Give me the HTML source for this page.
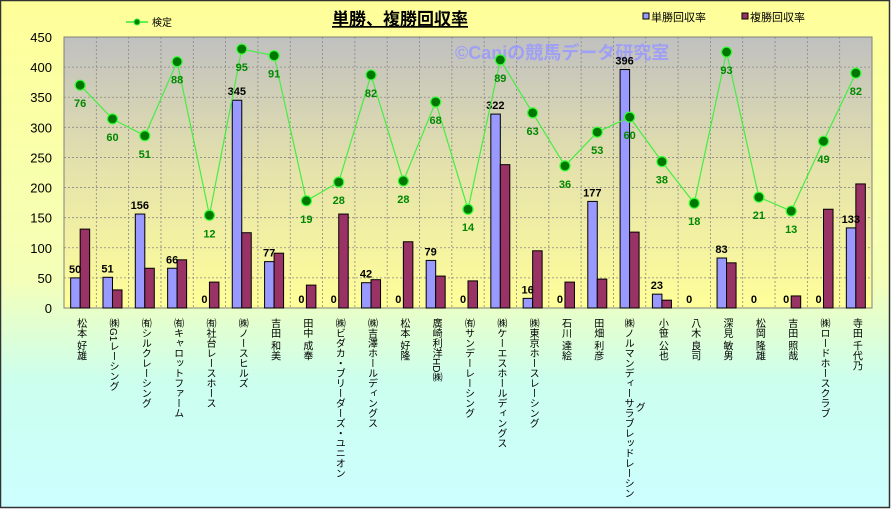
<!DOCTYPE html>
<html><head><meta charset="utf-8">
<style>
html,body{margin:0;padding:0;}
body{width:891px;height:509px;overflow:hidden;font-family:"Liberation Sans","Noto Sans CJK JP",sans-serif;}
.vt{writing-mode:vertical-rl;text-orientation:mixed;}
</style></head>
<body>
<svg id="chart" width="891" height="509" xmlns="http://www.w3.org/2000/svg" font-family="Liberation Sans, Noto Sans CJK JP, sans-serif">
<defs>
<linearGradient id="bg" x1="0" y1="0" x2="0" y2="1">
<stop offset="0" stop-color="#ffff99"/><stop offset="0.55" stop-color="#f4ffb8"/><stop offset="0.75" stop-color="#ccffee"/><stop offset="1" stop-color="#ccffff"/>
</linearGradient>
<linearGradient id="pg" x1="0" y1="0" x2="0" y2="1">
<stop offset="0" stop-color="#c0c0c0"/><stop offset="0.5" stop-color="#e6e3ab"/><stop offset="1" stop-color="#ffff99"/>
</linearGradient>
</defs>
<rect x="0.5" y="0.5" width="889" height="507" fill="url(#bg)" stroke="#333" stroke-width="1.5"/>
<rect x="64" y="37" width="808" height="271" fill="url(#pg)" stroke="#808080"/>
<g id="grid"></g>
<text x="455" y="59" font-size="18" font-weight="bold" fill="#9999ff" opacity="0.85">©Caniの競馬データ研究室</text>
<g id="bars"></g>
<g id="line"></g>
<g id="yaxis"></g>
<g id="xaxis"></g>
<text x="400" y="25" font-size="17" font-weight="bold" text-anchor="middle" text-decoration="underline" fill="#000">単勝、複勝回収率</text>
<g>
<line x1="126" y1="22" x2="148" y2="22" stroke="#33ee33" stroke-width="1.5"/><circle cx="137" cy="22" r="3" fill="#008000" stroke="#33ee33"/>
<text x="152" y="26" font-size="10" fill="#000">検定</text></g>
<g>
<rect x="643" y="13" width="6" height="6" fill="#9999ff" stroke="#000"/>
<text x="651" y="21" font-size="11" fill="#000">単勝回収率</text></g>
<g>
<rect x="742" y="13" width="6" height="6" fill="#993366" stroke="#000"/>
<text x="750" y="21" font-size="11" fill="#000">複勝回収率</text></g>
</svg>
<script>
const categories=["松本 好雄","㈱G1レーシング","㈲シルクレーシング","㈲キャロットファーム","㈲社台レースホース","㈱ノースヒルズ","吉田 和美","田中 成奉","㈱ビダカ・ブリーダーズ・ユニオン","㈱吉澤ホールディングス","松本 好隆","廣崎利洋HD㈱","㈲サンデーレーシング","㈱ケーエスホールディングス","㈱東京ホースレーシング","石川 達絵","田畑 利彦","㈱ノルマンディーサラブレッドレーシン\nグ","小笹 公也","八木 良司","深見 敏男","松岡 隆雄","吉田 照哉","㈱ロードホースクラブ","寺田 千代乃"];
const tansho=[50,51,156,66,0,345,77,0,0,42,0,79,0,322,16,0,177,396,23,0,83,0,0,0,133];
const fukusho=[131,30,66,80,43,125,91,38,156,47,110,53,45,238,95,43,48,126,13,0,75,0,20,164,206];
const kentei=[370,314,286,409,154,430,419,178,209,387,211,342,164,412,324,236,292,317,243,174,425,184,161,277,390];
const kenteiLabels=[76,60,51,88,12,95,91,19,28,82,28,68,14,89,63,36,53,60,38,18,93,21,13,49,82];
const yTicks=[0,50,100,150,200,250,300,350,400,450];
const NS="http://www.w3.org/2000/svg";
const X0=64,W=808,Y0=308,Ytop=37,YMAX=450;
const step=W/categories.length;
function y(v){return Y0-(v/YMAX)*(Y0-Ytop);}
function xc(i){return X0+step*(i+0.5);}
function mk(tag,attrs,parent){const e=document.createElementNS(NS,tag);for(const k in attrs)e.setAttribute(k,attrs[k]);parent.appendChild(e);return e;}
const grid=document.getElementById('grid'),bars=document.getElementById('bars'),line=document.getElementById('line'),ya=document.getElementById('yaxis'),xa=document.getElementById('xaxis');
yTicks.forEach(t=>{
  if(t>0&&t<YMAX){const g=mk('line',{x1:X0,x2:X0+W,y1:y(t),y2:y(t),stroke:'#888','stroke-dasharray':'2,2','stroke-width':0.8},grid);
  
  }
  const tx=mk('text',{x:X0-12,y:y(t)+5,'font-size':13,'text-anchor':'end',fill:'#000'},ya);tx.textContent=t;
  
  
});
categories.forEach((c,i)=>{
  if(i>0){const g=mk('line',{x1:X0+step*i,x2:X0+step*i,y1:Ytop,y2:Y0,stroke:'#888','stroke-dasharray':'2,2','stroke-width':0.8},grid);
  
  }
  const cx=xc(i);
  if(tansho[i]>0){const b=mk('rect',{x:cx-9.5,y:y(tansho[i]),width:9.5,height:Y0-y(tansho[i]),fill:'#9999ff',stroke:'#000','stroke-width':1},bars);
  
  }
  if(fukusho[i]>0){const b=mk('rect',{x:cx,y:y(fukusho[i]),width:9.5,height:Y0-y(fukusho[i]),fill:'#993366',stroke:'#000','stroke-width':1},bars);
  
  }
  const vl=mk('text',{x:cx-5,y:y(tansho[i])-5,'font-size':11,'font-weight':'bold','text-anchor':'middle',fill:'#000'},bars);vl.textContent=tansho[i];
  
  
  const parts=c.split('\n');
  parts.forEach((p,j)=>{
    const lt=mk('text',{x:cx+(parts.length>1?(j===0?-2:9):0),y:(j===0?318:402),'font-size':10,fill:'#000','class':'vt'},xa);lt.textContent=p;
    
    
  });
});
const pts=kentei.map((v,i)=>xc(i)+','+y(v)).join(' ');
const pl=mk('polyline',{points:pts,fill:'none',stroke:'#44ee44','stroke-width':1.2},line);


kentei.forEach((v,i)=>{
  const c=mk('circle',{cx:xc(i),cy:y(v),r:5,fill:'#007700',stroke:'#33ff33','stroke-width':1.2},line);
  
  
  const t=mk('text',{x:xc(i),y:y(v)+22,'font-size':11,'font-weight':'bold','text-anchor':'middle',fill:'#008800'},line);t.textContent=kenteiLabels[i];
  
  
});
</script>
</body></html>
